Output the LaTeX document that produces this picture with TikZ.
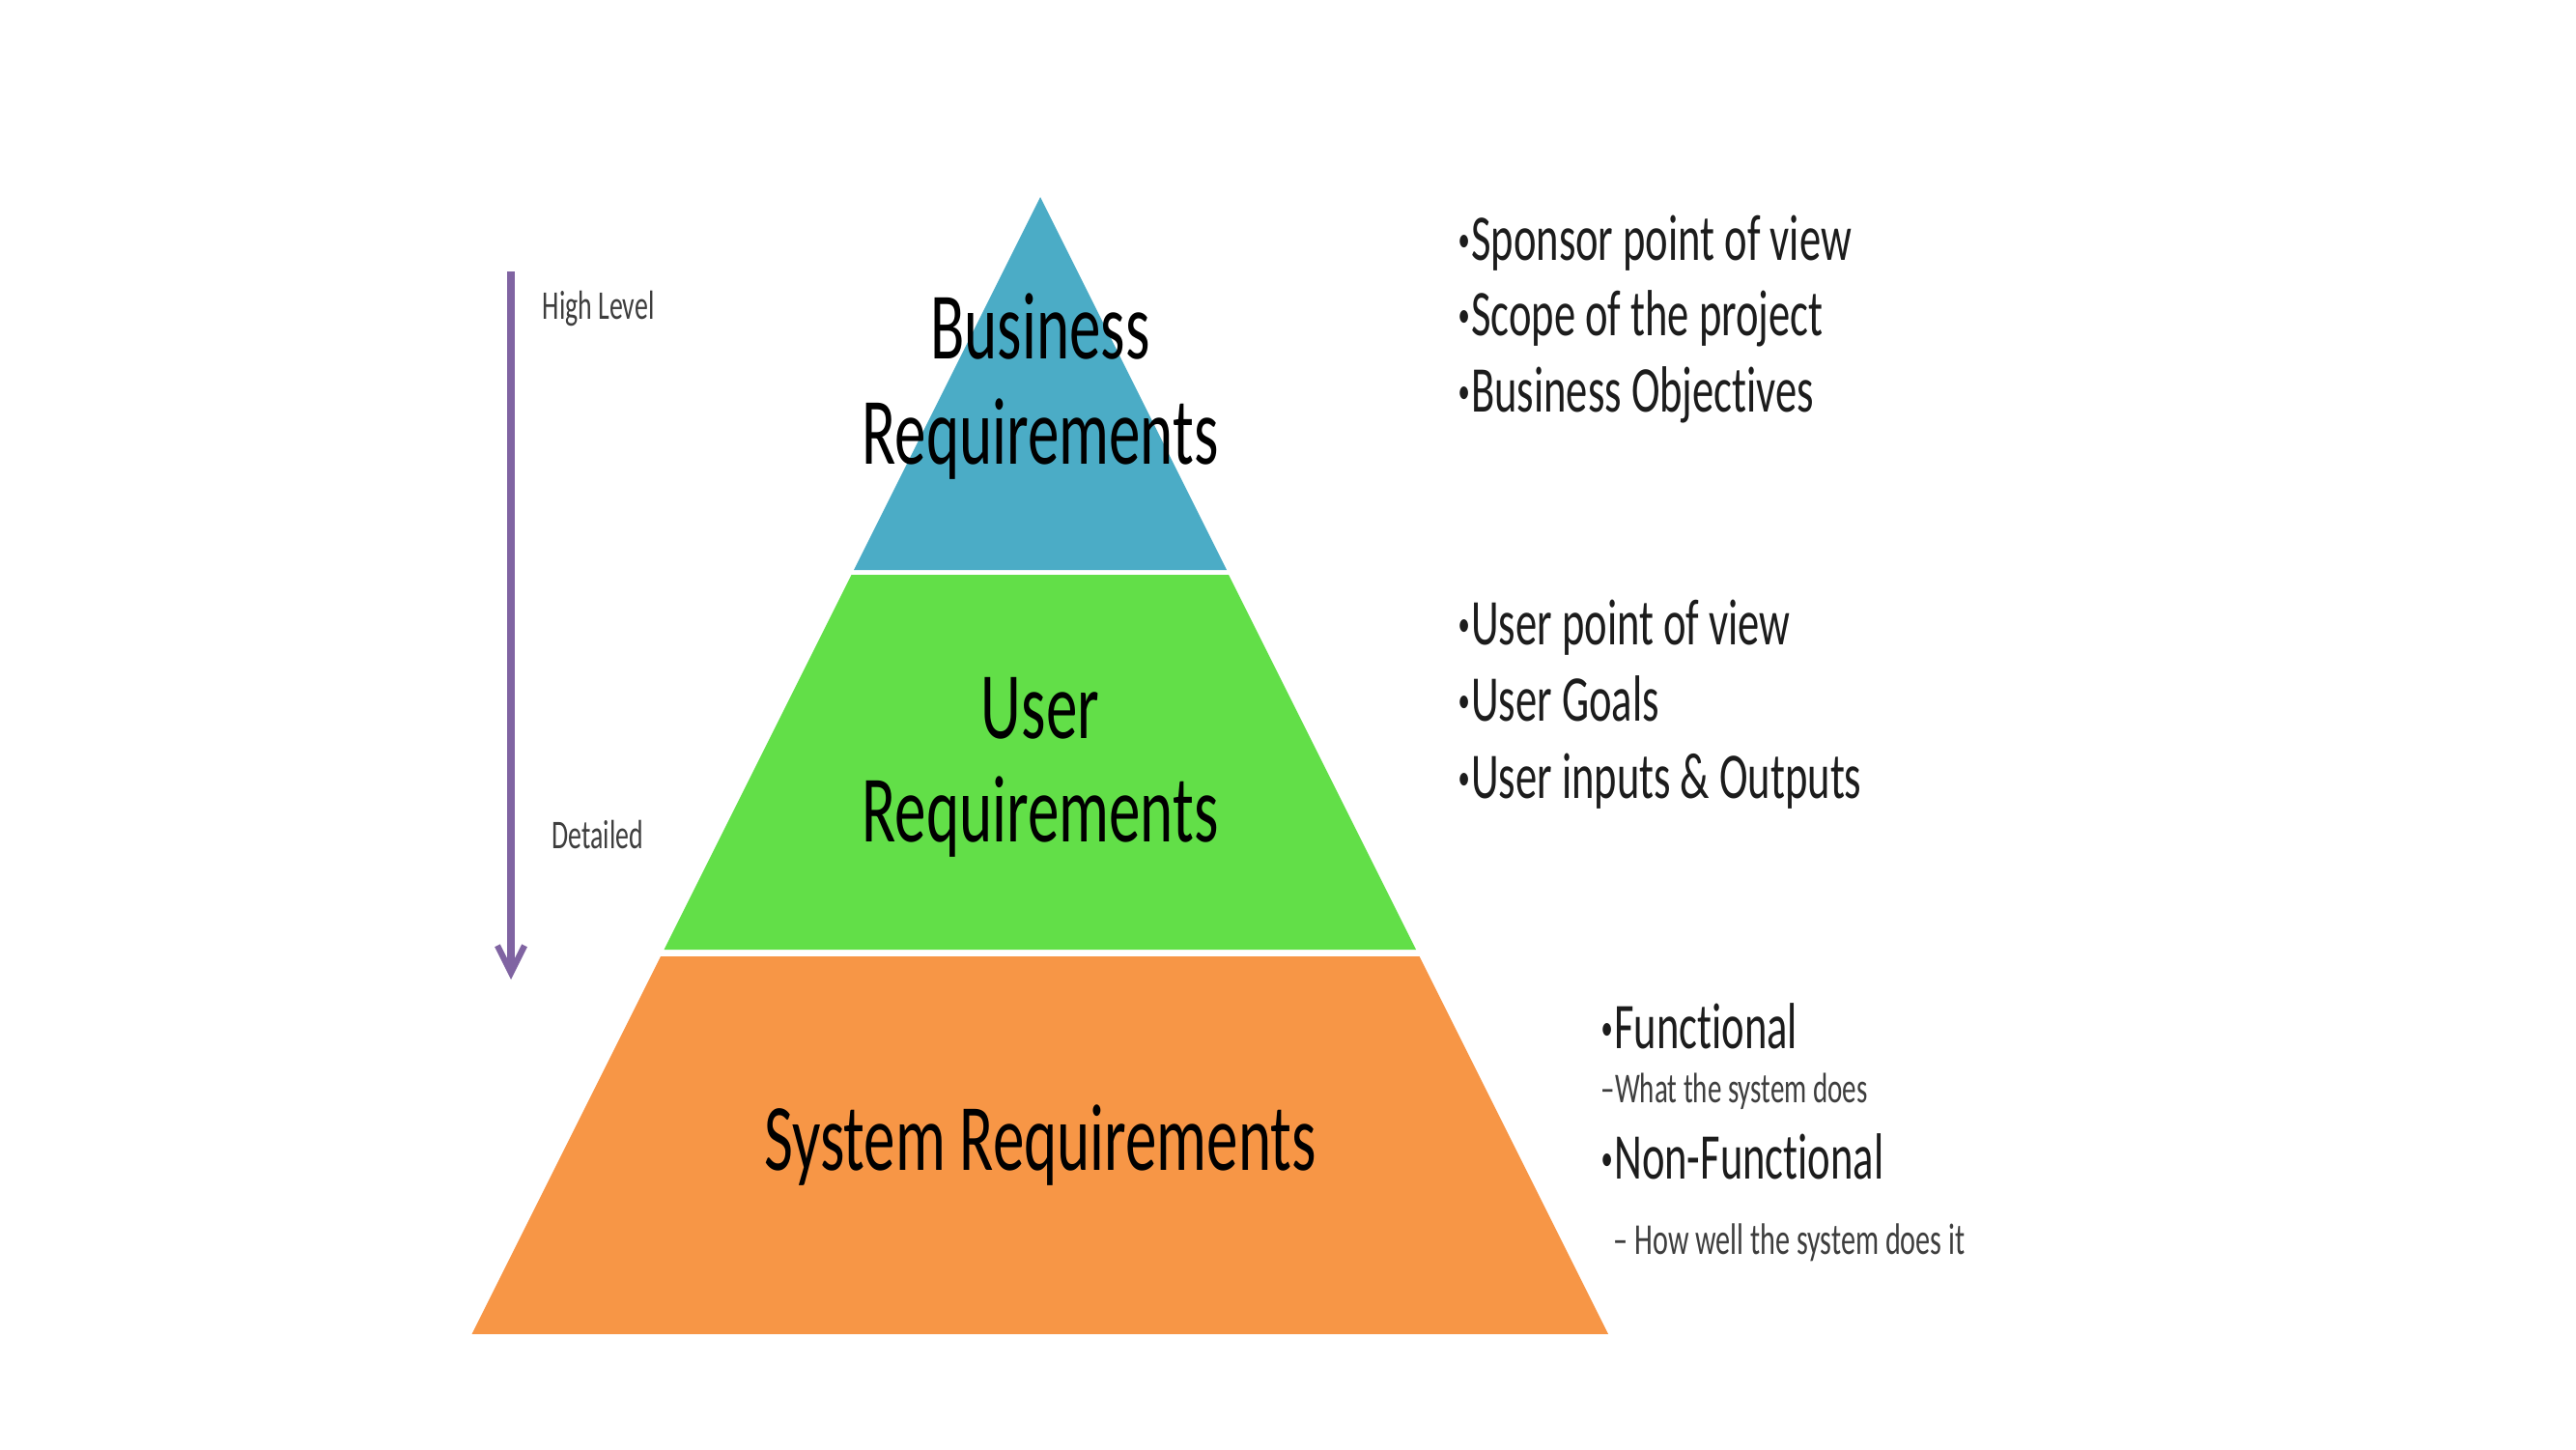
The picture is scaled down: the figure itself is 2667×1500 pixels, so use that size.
\documentclass[tikz,border=0pt]{standalone}
\usepackage{fontspec}
\usepackage{graphicx}
\setmainfont{Carlito}[FakeStretch=0.66, Ligatures={NoCommon}]
\usetikzlibrary{arrows.meta}
\definecolor{bizblue}{HTML}{4BACC6}
\definecolor{usergreen}{HTML}{62DF48}
\definecolor{sysorange}{HTML}{F79646}
\definecolor{arrowpurple}{HTML}{8064A2}
\definecolor{inkdark}{HTML}{1C1C1C}
\newcommand\smallbul{\raisebox{0.13em}{\scalebox{0.55}{•}}\kern0.02em}
\begin{document}
\begin{tikzpicture}[x=0.01cm,y=-0.01cm,
  bigtext/.style={font=\fontsize{28}{31}\selectfont, anchor=base, inner sep=0pt, text=black},
  bullettext/.style={font=\fontsize{19.2}{23}\selectfont, anchor=base west, inner sep=0pt, text=inkdark},
  subtext/.style={font=\fontsize{12.5}{15}\selectfont, anchor=base west, inner sep=0pt, text=inkdark!85},
  sidetext/.style={font=\fontsize{12}{14}\selectfont, anchor=base west, inner sep=0pt, text=inkdark!85},
  levelarrow/.style={draw=arrowpurple, line width=2.2pt, -{Straight Barb[length=8pt,width=8pt,line width=1.8pt]}}]
\useasboundingbox[fill=white] (0,0) rectangle (2667,1500);

% pyramid bands
\fill[bizblue] (1077,204) -- (1270,590) -- (884,590) -- cycle;
\fill[usergreen] (881.5,595) -- (1272,595) -- (1466,983) -- (687.5,983) -- cycle;
\fill[sysorange] (684,990) -- (1469.5,990) -- (1665,1381) -- (488.5,1381) -- cycle;

% labels in the pyramid
\node[bigtext] (biz1) at (1077,371) {Business};
\node[bigtext] (biz2) at (1077,480) {Requirements};
\node[bigtext] (usr1) at (1077,764) {User};
\node[bigtext] (usr2) at (1077,871) {Requirements};
\node[bigtext] (sys1) at (1077,1211) {System Requirements};

% level arrow
\coordinate (atop) at (529,281);
\coordinate (abot) at (529,1014);
\draw[levelarrow] (atop) -- (abot);
\node[sidetext] (high) at (561,330) {High Level};
\node[sidetext] (det) at (571,878) {Detailed};

% business bullets
\node[bullettext] (b1) at (1509,269) {\smallbul Sponsor point of view};
\node[bullettext] (b2) at (1509,347) {\smallbul Scope of the project};
\node[bullettext] (b3) at (1509,426) {\smallbul Business Objectives};

% user bullets
\node[bullettext] (u1) at (1509,667) {\smallbul User point of view};
\node[bullettext] (u2) at (1509,746) {\smallbul User Goals};
\node[bullettext] (u3) at (1509,826) {\smallbul User inputs \& Outputs};

% system bullets
\node[bullettext] (s1) at (1657,1085) {\smallbul Functional};
\node[subtext] (s1a) at (1657,1141) {–What the system does};
\node[bullettext] (s2) at (1657,1220) {\smallbul Non-Functional};
\node[subtext, font=\fontsize{13}{15}\selectfont] (s2a) at (1670,1298) {– How well the system does it};
\end{tikzpicture}
\end{document}
